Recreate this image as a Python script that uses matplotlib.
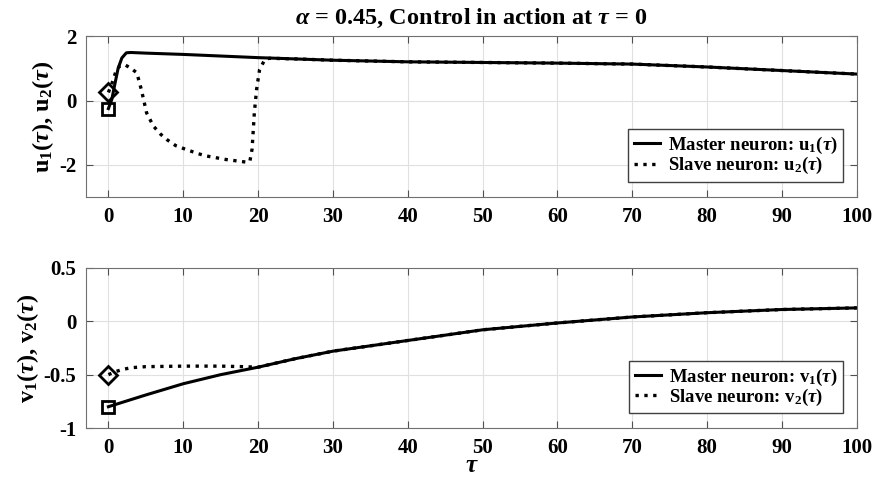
import numpy as np
import matplotlib
matplotlib.use('Agg')
import matplotlib.pyplot as plt

# FONT SETUP (Times-like, bold, MATLAB look)
plt.rcParams['font.family'] = 'Liberation Serif'
plt.rcParams['font.weight'] = 'bold'
plt.rcParams['mathtext.fontset'] = 'custom'
plt.rcParams['mathtext.rm'] = 'Liberation Serif:bold'
plt.rcParams['mathtext.it'] = 'Liberation Serif:italic'
plt.rcParams['mathtext.bf'] = 'Liberation Serif:bold'
plt.rcParams['axes.unicode_minus'] = False

# DATA

# Top panel: u1 (master), u2 (slave)
t_u1 = [0, 0.45, 0.9, 1.3, 1.8, 2.4, 3, 5, 10, 15, 20, 25, 30, 40, 50, 60, 70, 80, 90, 100]
u1 = [-0.25, 0.03, 0.55, 1.0, 1.32, 1.48, 1.49, 1.47, 1.43, 1.38, 1.33, 1.29, 1.25,
      1.20, 1.18, 1.16, 1.13, 1.04, 0.93, 0.82]

t_u2 = [0, 0.5, 1, 1.5, 2.2, 3, 3.8, 4.4, 5.1, 6, 7, 7.8, 9, 10.4, 12, 13.1, 15.7,
        18.4, 18.9, 19.2, 19.5, 19.8, 20.2, 20.9, 21.5, 25, 30, 40, 50, 60, 70, 80, 90, 100]
u2 = [0.25, 0.55, 0.9, 1.07, 1.11, 1.0, 0.86, 0.34, -0.38, -0.79, -1.05, -1.21, -1.4,
      -1.52, -1.65, -1.72, -1.83, -1.91, -1.89, -1.5, -0.38, 0.34, 0.96, 1.27, 1.31,
      1.29, 1.25, 1.20, 1.18, 1.16, 1.13, 1.04, 0.93, 0.82]

# Bottom panel: v1 (master), v2 (slave)
t_v1 = [0, 5, 10, 15, 20, 25, 30, 35, 40, 45, 50, 60, 70, 80, 90, 100]
v1 = [-0.80, -0.69, -0.585, -0.50, -0.43, -0.35, -0.28, -0.23, -0.18, -0.13, -0.08,
      -0.016, 0.04, 0.08, 0.11, 0.125]

t_v2 = [0, 1, 2, 3, 5, 10, 15, 18, 20, 25, 30, 35, 40, 45, 50, 60, 70, 80, 90, 100]
v2 = [-0.5, -0.47, -0.45, -0.435, -0.425, -0.42, -0.42, -0.425, -0.43, -0.35, -0.28,
      -0.23, -0.18, -0.13, -0.08, -0.016, 0.04, 0.08, 0.11, 0.125]

x_ticks = list(range(0, 101, 10))
u_ticks = [-2, 0, 2]
v_ticks = [-1, -0.5, 0, 0.5]
v_tick_labels = ['-1', '-0.5', '0', '0.5']

title_txt = r'$\alpha$ = 0.45, Control in action at $\tau$ = 0'


def style_axes(ax):
    ax.grid(True, color='#e0e0e0', linewidth=0.8)
    ax.set_axisbelow(True)
    ax.tick_params(direction='in', top=True, right=True, length=5,
                   color='#505050', labelsize=15, pad=7)
    for s in ax.spines.values():
        s.set_color('#707070')
        s.set_linewidth(0.8)
    for lab in ax.get_xticklabels() + ax.get_yticklabels():
        lab.set_fontweight('bold')


def add_legend(ax, y0):
    leg = ax.legend(loc='lower right', bbox_to_anchor=(0.982, y0), fontsize=13.5,
                    handlelength=1.4, handletextpad=0.4, borderpad=0.3,
                    labelspacing=-0.05, borderaxespad=0, fancybox=False,
                    framealpha=1, edgecolor='#404040')
    for txt in leg.get_texts():
        txt.set_fontweight('bold')
    return leg


# PLOT
fig = plt.figure(figsize=(8.77, 4.87), dpi=100)
ax1 = fig.add_axes([0.098, 0.595, 0.879, 0.331])
ax2 = fig.add_axes([0.098, 0.121, 0.879, 0.329])

# Top
ax1.plot(t_u1, u1, 'k-', lw=2.2, label=r'Master neuron: u$_\mathrm{1}$($\tau$)')
ax1.plot(t_u2, u2, 'k:', lw=2.4, label=r'Slave neuron: u$_\mathrm{2}$($\tau$)')
ax1.plot(t_u1[0], u1[0], 'ks', mfc='none', ms=9, mew=2)
ax1.plot(t_u2[0], u2[0], 'kD', mfc='none', ms=9, mew=2)
ax1.set_xlim(-3, 100)
ax1.set_ylim(-3, 2)
ax1.set_xticks(x_ticks)
ax1.set_yticks(u_ticks)
ax1.set_ylabel(r'u$_\mathrm{1}$($\tau$), u$_\mathrm{2}$($\tau$)', fontsize=17.5,
               fontweight='bold', labelpad=2)
ax1.set_title(title_txt, fontsize=17.5, fontweight='bold', pad=9)
style_axes(ax1)
add_legend(ax1, 0.095)

# Bottom
ax2.plot(t_v1, v1, 'k-', lw=2.2, label=r'Master neuron: v$_\mathrm{1}$($\tau$)')
ax2.plot(t_v2, v2, 'k:', lw=2.4, label=r'Slave neuron: v$_\mathrm{2}$($\tau$)')
ax2.plot(t_v1[0], v1[0], 'ks', mfc='none', ms=9, mew=2)
ax2.plot(t_v2[0], v2[0], 'kD', mfc='none', ms=9, mew=2)
ax2.set_xlim(-3, 100)
ax2.set_ylim(-1, 0.5)
ax2.set_xticks(x_ticks)
ax2.set_yticks(v_ticks)
ax2.set_yticklabels(v_tick_labels)
ax2.set_ylabel(r'v$_\mathrm{1}$($\tau$), v$_\mathrm{2}$($\tau$)', fontsize=17.5,
               fontweight='bold', labelpad=2)
ax2.set_xlabel(r'$\tau$', fontsize=18, labelpad=-2)
style_axes(ax2)
add_legend(ax2, 0.092)

fig.savefig('out.png', dpi=100)
